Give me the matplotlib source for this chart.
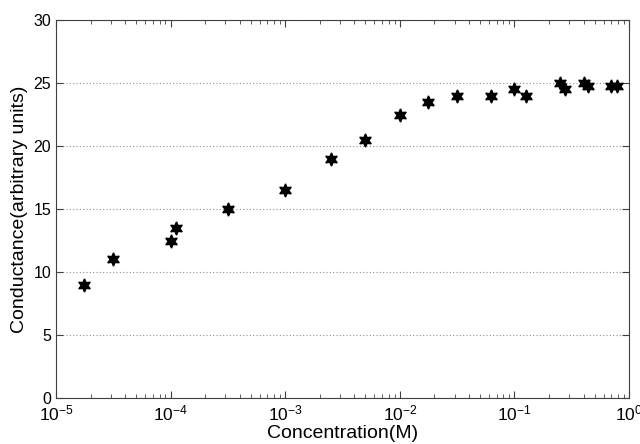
import math

import matplotlib
matplotlib.use("Agg")
import matplotlib.pyplot as plt
from matplotlib.ticker import LogLocator, FixedLocator, FuncFormatter

plt.rcParams["font.family"] = ["Liberation Sans", "DejaVu Sans"]
plt.rcParams["mathtext.fontset"] = "custom"
plt.rcParams["mathtext.rm"] = "Liberation Sans"

# concentration (M) and conductance (arbitrary units)
concentration = [1.75e-5, 3.16e-5, 1.0e-4, 1.11e-4, 3.16e-4, 1.0e-3, 2.5e-3, 5.0e-3,
                 1.0e-2, 1.77e-2, 3.16e-2, 6.3e-2, 0.1, 0.126, 0.25, 0.278,
                 0.4, 0.44, 0.70, 0.79]
conductance = [9.0, 11.0, 12.5, 13.5, 15.0, 16.5, 19.0, 20.5,
               22.5, 23.5, 24.0, 24.0, 24.5, 24.0, 25.0, 24.5,
               25.0, 24.8, 24.8, 24.8]

y_ticks = [0, 5, 10, 15, 20, 25, 30]
x_decades = [1e-5, 1e-4, 1e-3, 1e-2, 1e-1, 1e0]


def decade_label(v, _):
    return r"$\mathregular{10^{%d}}$" % round(math.log10(v))


fig = plt.figure(figsize=(6.4, 4.44), dpi=100)
ax = fig.add_axes([0.0875, 0.1036, 0.8955, 0.851])

hexagram = (6, 1, 0)
ax.plot(concentration, conductance, linestyle="none", marker=hexagram,
        markersize=9.5, color="black", markeredgecolor="black")

ax.set_xscale("log")
ax.set_xlim(x_decades[0], x_decades[-1])
ax.set_ylim(y_ticks[0], y_ticks[-1])
ax.xaxis.set_major_locator(FixedLocator(x_decades))
ax.xaxis.set_minor_locator(LogLocator(base=10, subs=range(2, 10), numticks=20))
ax.xaxis.set_major_formatter(FuncFormatter(decade_label))
ax.yaxis.set_major_locator(FixedLocator(y_ticks))

ax.yaxis.grid(True, linestyle=(0, (1, 2)), color="#909090", linewidth=0.8)
ax.set_axisbelow(True)

for s in ax.spines.values():
    s.set_color("#404040")
    s.set_linewidth(0.8)

ax.tick_params(axis="both", which="both", direction="in", top=True, right=True,
               colors="#404040", labelcolor="black", labelsize=11.5)
ax.tick_params(axis="both", which="major", length=5)
ax.tick_params(axis="x", which="minor", length=3)
ax.tick_params(axis="x", which="major", pad=4, labelsize=12.5)

ax.set_xlabel("Concentration(M)", fontsize=14, labelpad=1)
ax.set_ylabel("Conductance(arbitrary units)", fontsize=14, labelpad=4)

fig.savefig("out.png", dpi=100)
